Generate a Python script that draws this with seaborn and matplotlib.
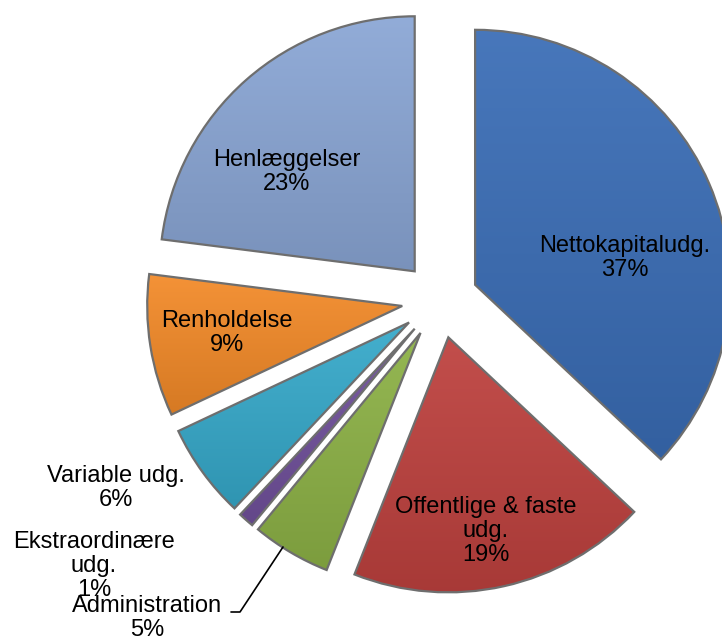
import matplotlib
matplotlib.use('Agg')
import matplotlib.pyplot as plt
import matplotlib.colors as mcolors
import numpy as np
import seaborn as sns

# data
categories = ['Nettokapitaludg.', 'Offentlige & faste\nudg.', 'Administration',
              'Ekstraordinære\nudg.', 'Variable udg.', 'Renholdelse', 'Henlæggelser']
shares = [37, 19, 5, 1, 6, 9, 23]

colors = ['#3A6DB6', '#BE413E', '#8DB246', '#71519C', '#36A9CA', '#F38A28', '#8AA6D5']

sns.set_theme(style='white')
plt.rcParams['font.family'] = ['Liberation Sans', 'DejaVu Sans']

W, H = 722, 642
cx, cy, R = 440, 300, 255  # pie centre and radius in pixels


def to_data(px, py):
    return (px - cx) / R, (cy - py) / R


def shade(c, f):
    rgb = np.array(mcolors.to_rgb(c))
    if f > 0:
        return tuple(rgb + (1 - rgb) * f)
    return tuple(rgb * (1 + f))


fig = plt.figure(figsize=(W / 100, H / 100), dpi=100)
ax = fig.add_axes([0, 0, 1, 1])

wedges, _ = ax.pie(shares, startangle=90, counterclock=False,
                   explode=[0.15] * len(shares), colors=colors, radius=1,
                   wedgeprops=dict(edgecolor='#6E6E6E', linewidth=1.6))

# vertical gradient (lighter on top) clipped to each wedge, like the Excel bevel look
grad = np.linspace(1, 0, 256).reshape(-1, 1)
for w, c in zip(wedges, colors):
    cmap = mcolors.LinearSegmentedColormap.from_list('g', [shade(c, -0.12), shade(c, 0.07)])
    verts = w.get_path().vertices
    xmin, ymin = verts.min(axis=0)
    xmax, ymax = verts.max(axis=0)
    im = ax.imshow(grad, cmap=cmap, extent=[xmin, xmax, ymin, ymax],
                   aspect='auto', zorder=w.get_zorder() - 0.5, origin='upper')
    im.set_clip_path(w)
    w.set_facecolor('none')

# label positions (pixel centres of each label block)
label_pos = [(625, 258), (486, 531), (147, 618), (94, 566), (116, 488), (227, 333), (287, 172)]
for name, val, (px, py) in zip(categories, shares, label_pos):
    x, y = to_data(px, py)
    ax.text(x, y, f'{name}\n{val}%', ha='center', va='center', fontsize=17,
            linespacing=1.1, color='black', zorder=5)

# leader line for Administration
lx, ly = zip(*[to_data(283, 547), to_data(240, 612), to_data(231, 612)])
ax.plot(lx, ly, color='black', linewidth=1.2, zorder=5)

x0, _ = to_data(0, 0)
x1, _ = to_data(W, 0)
_, y0 = to_data(0, H)
_, y1 = to_data(0, 0)
ax.set_xlim(x0, x1)
ax.set_ylim(y0, y1)
ax.set_aspect('equal')
ax.axis('off')

fig.savefig('out.png', dpi=100, facecolor='white')
